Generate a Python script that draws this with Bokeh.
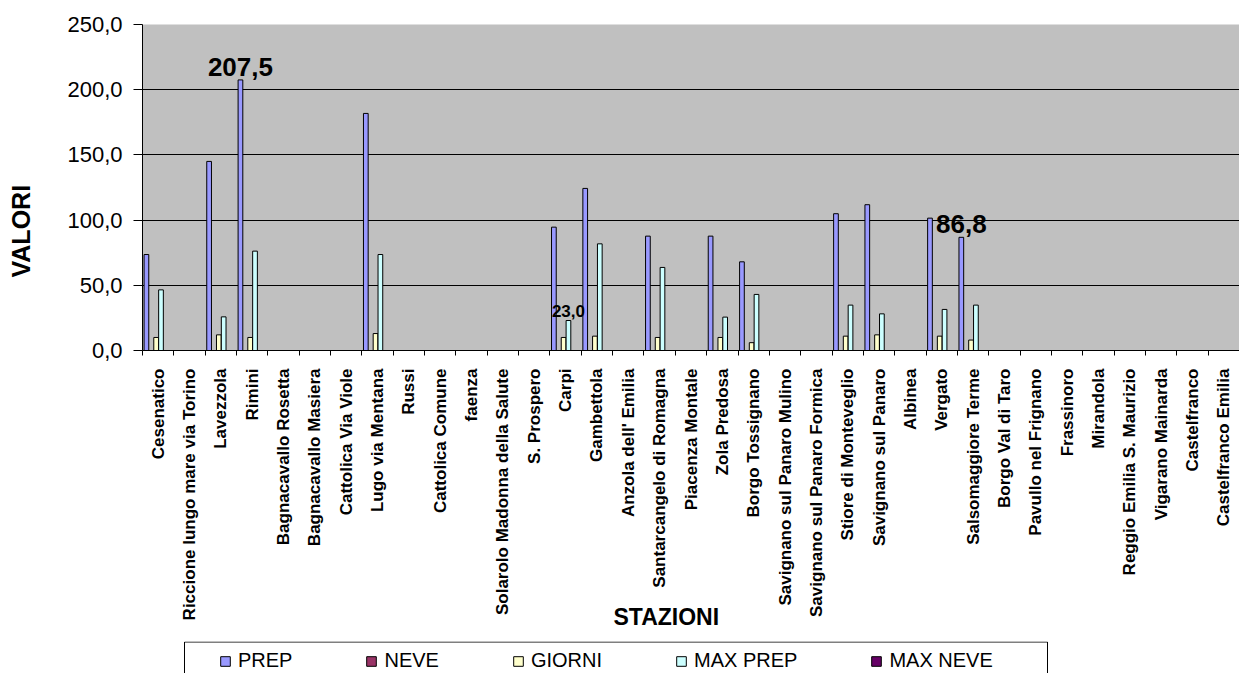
import numpy as np
from math import pi

from bokeh.plotting import figure
from bokeh.layouts import column
from bokeh.models import (Range1d, FixedTicker, Legend, LegendItem, Title,
                          BoxAnnotation, ColumnDataSource)
from bokeh.core.properties import value
from bokeh.embed import file_html
from bokeh.resources import INLINE

# ---- data -------------------------------------------------------------
stations = [
    "Cesenatico", "Riccione lungo mare via Torino", "Lavezzola", "Rimini",
    "Bagnacavallo Rosetta", "Bagnacavallo Masiera", "Cattolica Via Viole",
    "Lugo via Mentana", "Russi", "Cattolica Comune", "faenza",
    "Solarolo Madonna della Salute", "S. Prospero", "Carpi", "Gambettola",
    "Anzola dell' Emilia", "Santarcangelo di Romagna", "Piacenza Montale",
    "Zola Predosa", "Borgo Tossignano", "Savignano sul Panaro Mulino",
    "Savignano sul Panaro Formica", "Stiore di Monteveglio",
    "Savignano sul Panaro", "Albinea", "Vergato", "Salsomaggiore Terme",
    "Borgo Val di Taro", "Pavullo nel Frignano", "Frassinoro", "Mirandola",
    "Reggio Emilia S. Maurizio", "Vigarano Mainarda", "Castelfranco",
    "Castelfranco Emilia",
]

N = None
prep = [73.6, N, 145.0, 207.5, N, N, N, 181.8, N, N, N, N, N, 94.6, 124.3,
        N, 87.7, N, 87.7, 68.0, N, N, 104.9, 111.8, N, 101.5, 86.8,
        N, N, N, N, N, N, N, N]
neve = [0, N, 0, 0, N, N, N, 0, N, N, N, N, N, 0, 0,
        N, 0, N, 0, 0, N, N, 0, 0, N, 0, 0,
        N, N, N, N, N, N, N, N]
giorni = [10, N, 12, 10, N, N, N, 13, N, N, N, N, N, 10, 11,
          N, 10, N, 10, 6, N, N, 11, 12, N, 11, 8,
          N, N, N, N, N, N, N, N]
max_prep = [46.5, N, 25.8, 76.2, N, N, N, 73.6, N, N, N, N, N, 23.0, 81.8,
            N, 63.7, N, 25.6, 43.0, N, N, 34.8, 28.1, N, 31.5, 34.8,
            N, N, N, N, N, N, N, N]
max_neve = [0, N, 0, 0, N, N, N, 0, N, N, N, N, N, 0, 0,
            N, 0, N, 0, 0, N, N, 0, 0, N, 0, 0,
            N, N, N, N, N, N, N, N]

series_names = ["PREP", "NEVE", "GIORNI", "MAX PREP", "MAX NEVE"]
series_values = [prep, neve, giorni, max_prep, max_neve]
series_colors = ["#9999FF", "#993366", "#FFFFCC", "#CCFFFF", "#660066"]

y_ticks = [0, 50, 100, 150, 200, 250]
y_tick_labels = ["0,0", "50,0", "100,0", "150,0", "200,0", "250,0"]

# bars that carry a value label: (station, series, font size, offset)
labelled = [("Rimini", "PREP", "26px", -13),
            ("Carpi", "MAX PREP", "17px", -10),
            ("Salsomaggiore Terme", "PREP", "26px", -13)]

# ---- chart ------------------------------------------------------------
FONT = "Liberation Sans"
n = len(stations)
idx = np.arange(n)
bar_w = 0.15
step = 0.155
offsets = [-0.375 + k * step for k in range(len(series_names))]

p = figure(width=1239, height=641, output_backend="svg",
           toolbar_location=None, tools="",
           x_range=Range1d(-0.5, n - 0.5), y_range=Range1d(0, 250),
           min_border_left=142, min_border_right=0,
           min_border_top=24, min_border_bottom=291)
p.background_fill_color = "#C0C0C0"
p.border_fill_color = "white"
p.outline_line_color = None

for name, vals, col, off in zip(series_names, series_values,
                                series_colors, offsets):
    top = np.array([np.nan if v is None else v for v in vals], dtype=float)
    p.vbar(x=idx + off, top=top, bottom=0, width=bar_w,
           fill_color=col, line_color="black", line_width=1)

# value labels above selected bars
lx, ly, lt, ls, lo = [], [], [], [], []
for st, ser, size, yoff in labelled:
    i = stations.index(st)
    k = series_names.index(ser)
    v = series_values[k][i]
    lx.append(i + offsets[k])
    ly.append(v)
    lt.append(f"{v:.1f}".replace(".", ","))
    ls.append(size)
    lo.append(yoff)
lab_src = ColumnDataSource(dict(x=lx, y=ly, text=lt, size=ls, off=lo))
p.text(x="x", y="y", text="text", source=lab_src,
       text_font=value(FONT), text_font_style="bold",
       text_font_size="size", y_offset="off",
       text_align="center", text_baseline="alphabetic", text_color="black")

# axes
xa = p.xaxis[0]
xa.ticker = FixedTicker(ticks=list(range(n)),
                        minor_ticks=[i - 0.5 for i in range(n + 1)])
xa.major_label_overrides = {i: s for i, s in enumerate(stations)}
xa.major_label_orientation = pi / 2
xa.major_tick_out = 0
xa.major_tick_in = 0
xa.minor_tick_out = 5
xa.minor_tick_in = 0
xa.minor_tick_line_color = "black"
xa.major_label_standoff = 13
xa.major_label_text_font = FONT
xa.major_label_text_font_style = "bold"
xa.major_label_text_font_size = "17px"
xa.major_label_text_color = "black"
xa.axis_line_color = "black"

ya = p.yaxis[0]
ya.ticker = FixedTicker(ticks=y_ticks, minor_ticks=[])
ya.major_label_overrides = dict(zip(y_ticks, y_tick_labels))
ya.major_tick_out = 9
ya.major_tick_in = 0
ya.major_tick_line_color = "black"
ya.major_label_standoff = 11
ya.major_label_text_font = FONT
ya.major_label_text_font_size = "22px"
ya.major_label_text_color = "black"
ya.axis_line_color = "black"

p.xgrid.grid_line_color = None
p.ygrid.grid_line_color = "black"
p.ygrid.grid_line_width = 1

# axis titles
p.add_layout(Title(text="VALORI", align="left", offset=73,
                   vertical_align="top", standoff=-116,
                   text_font=FONT, text_font_style="bold",
                   text_font_size="25px", text_color="black"), "left")
p.add_layout(Title(text="STAZIONI", align="left", offset=471,
                   vertical_align="top", standoff=-40,
                   text_font=FONT, text_font_style="bold",
                   text_font_size="23px", text_color="black"), "below")

# ---- legend strip -----------------------------------------------------
leg = figure(width=1239, height=32, output_backend="svg",
             toolbar_location=None, tools="",
             x_range=Range1d(0, 1), y_range=Range1d(0, 1),
             x_axis_location=None, y_axis_location=None,
             min_border_left=142, min_border_right=0,
             min_border_top=0, min_border_bottom=0)
leg.outline_line_color = None
leg.grid.visible = False
leg.background_fill_color = "white"
leg.border_fill_color = "white"

# legend frame
leg.add_layout(BoxAnnotation(left=42, right=905, top=31.5, bottom=-10,
                             left_units="screen", right_units="screen",
                             top_units="screen", bottom_units="screen",
                             fill_color="white", fill_alpha=1,
                             line_color="black", line_width=1,
                             line_alpha=1))

# one empty (NaN) entry per series, so the legend has a swatch to draw
swatches = []
for col in series_colors:
    swatches.append(leg.quad(left=[np.nan], right=[np.nan],
                             top=[np.nan], bottom=[np.nan],
                             fill_color=col, line_color="black",
                             line_width=1))
legend = Legend(items=[LegendItem(label=nm, renderers=[r])
                       for nm, r in zip(series_names, swatches)],
                orientation="horizontal", location=(77, 1),
                padding=0, margin=0, spacing=73,
                glyph_width=12, glyph_height=12,
                label_standoff=7, label_height=20,
                label_text_font=FONT, label_text_font_size="20px",
                label_text_color="black",
                border_line_color=None, background_fill_alpha=0)
leg.add_layout(legend, "center")

layout = column(p, leg, spacing=0)
open("out.html", "w").write(file_html(layout, INLINE))
